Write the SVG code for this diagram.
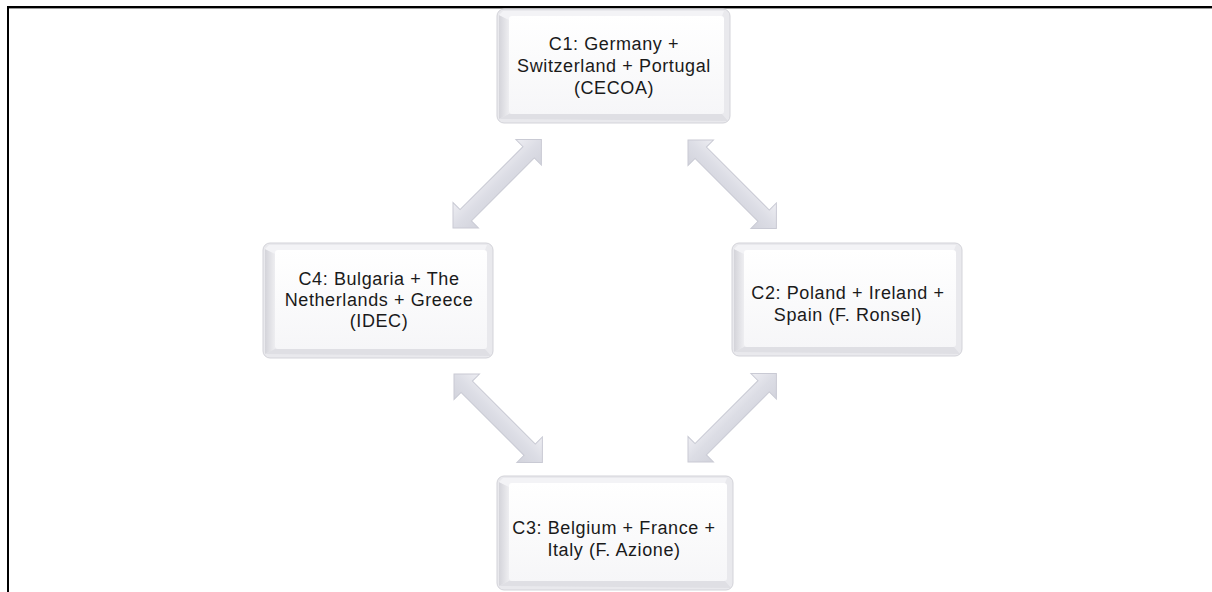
<svg xmlns="http://www.w3.org/2000/svg" width="1212" height="592" viewBox="0 0 1212 592">
  <defs>
    <linearGradient id="face" x1="0" y1="0" x2="0" y2="1">
      <stop offset="0" stop-color="#ffffff"/>
      <stop offset="1" stop-color="#f6f6f8"/>
    </linearGradient>
    <linearGradient id="leftBevel" x1="0" y1="0" x2="1" y2="0">
      <stop offset="0" stop-color="#d4d4da"/>
      <stop offset="1" stop-color="#eeeef1"/>
    </linearGradient>
    <linearGradient id="arrowFill" x1="0" y1="0" x2="0" y2="1">
      <stop offset="0" stop-color="#eeeef3"/>
      <stop offset="0.5" stop-color="#dcdde5"/>
      <stop offset="1" stop-color="#d2d3dc"/>
    </linearGradient>
    <path id="dblArrow" d="M0,0 L18,-18 L18,-8 L107,-8 L107,-18 L125,0 L107,18 L107,8 L18,8 L18,18 Z"/>
  </defs>
  <style>
    .txt { font-family: "Liberation Sans", Arial, sans-serif; font-size: 18px; letter-spacing: 0.6px; fill: #1a1a1a; text-anchor: middle; }
    .outer { fill: #e9e9ed; stroke: #d3d3d9; stroke-width: 1; }
    .top { fill: #f3f3f6; }
    .left { fill: url(#leftBevel); }
    .bottom { fill: #dfdfe4; }
    .face { fill: url(#face); }
    .arrow { fill: url(#arrowFill); stroke: #c9cad4; stroke-width: 1; }
    .frame { stroke: #000000; stroke-width: 2; fill: none; }
  </style>

  <rect width="1212" height="592" fill="#ffffff"/>
  <line class="frame" x1="7" y1="7" x2="1212" y2="7"/>
  <line x1="9" y1="8.5" x2="1212" y2="8.5" stroke="#9a9a9a" stroke-width="1"/>
  <line class="frame" x1="8" y1="6" x2="8" y2="592"/>

  <g id="connectors">
    <use href="#dblArrow" class="arrow" transform="translate(453,228) rotate(-45)"/>
    <use href="#dblArrow" class="arrow" transform="translate(688,140) rotate(45)"/>
    <use href="#dblArrow" class="arrow" transform="translate(454,374) rotate(45)"/>
    <use href="#dblArrow" class="arrow" transform="translate(688,462) rotate(-45)"/>
  </g>

  <g id="C1">
    <rect class="outer" x="497" y="9" width="233" height="114" rx="7"/>
    <path class="left" d="M499,15 L509,20 L509,114 L499,119 Z"/>
    <path class="bottom" d="M499,119 L509,114 L722,114 L728,121 Z"/>
    <path class="top" d="M499,15 L503,11 L724,11 L722,16 L509,20 Z"/>
    <rect class="face" x="509" y="16" width="215" height="98" rx="3"/>
    <text class="txt" x="614" y="50">C1: Germany +</text>
    <text class="txt" x="614" y="72">Switzerland + Portugal</text>
    <text class="txt" x="614" y="94">(CECOA)</text>
  </g>

  <g id="C2">
    <rect class="outer" x="732" y="243" width="230" height="113" rx="7"/>
    <path class="left" d="M734,249 L744,254 L744,347 L734,352 Z"/>
    <path class="bottom" d="M734,352 L744,347 L954,347 L960,354 Z"/>
    <path class="top" d="M734,249 L738,245 L956,245 L954,250 L744,254 Z"/>
    <rect class="face" x="744" y="250" width="212" height="97" rx="3"/>
    <text class="txt" x="848" y="299">C2: Poland + Ireland +</text>
    <text class="txt" x="848" y="321">Spain (F. Ronsel)</text>
  </g>

  <g id="C3">
    <rect class="outer" x="497" y="476" width="236" height="114" rx="7"/>
    <path class="left" d="M499,482 L509,487 L509,581 L499,586 Z"/>
    <path class="bottom" d="M499,586 L509,581 L725,581 L731,588 Z"/>
    <path class="top" d="M499,482 L503,478 L727,478 L725,483 L509,487 Z"/>
    <rect class="face" x="509" y="483" width="218" height="98" rx="3"/>
    <text class="txt" x="614" y="534">C3: Belgium + France +</text>
    <text class="txt" x="614" y="556">Italy (F. Azione)</text>
  </g>

  <g id="C4">
    <rect class="outer" x="263" y="243" width="230" height="115" rx="7"/>
    <path class="left" d="M265,249 L275,254 L275,349 L265,354 Z"/>
    <path class="bottom" d="M265,354 L275,349 L485,349 L491,356 Z"/>
    <path class="top" d="M265,249 L269,245 L487,245 L485,250 L275,254 Z"/>
    <rect class="face" x="275" y="250" width="212" height="99" rx="3"/>
    <text class="txt" x="379" y="285">C4: Bulgaria + The</text>
    <text class="txt" x="379" y="306">Netherlands + Greece</text>
    <text class="txt" x="379" y="327">(IDEC)</text>
  </g>
</svg>
